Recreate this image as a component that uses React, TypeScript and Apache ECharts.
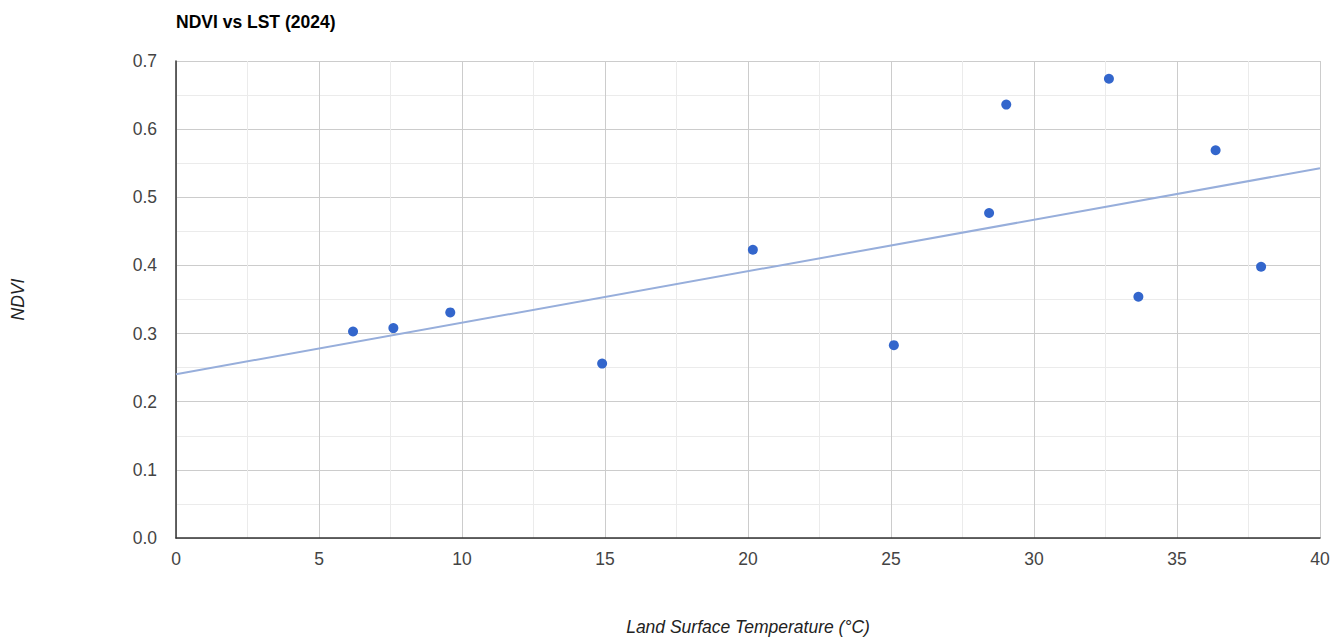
import React, { useEffect, useRef } from "react";
import * as echarts from "echarts";

const lstValues = [6.19, 7.6, 9.59, 14.9, 20.17, 25.1, 28.43, 29.03, 32.62, 33.65, 36.35, 37.94];
const ndviValues = [0.303, 0.308, 0.331, 0.256, 0.423, 0.283, 0.477, 0.636, 0.674, 0.354, 0.569, 0.398];
const xTicks = [0, 5, 10, 15, 20, 25, 30, 35, 40];
const yTicks = [0, 0.1, 0.2, 0.3, 0.4, 0.5, 0.6, 0.7];

function regression(xs: number[], ys: number[]) {
  const n = xs.length;
  const mx = xs.reduce((a, b) => a + b, 0) / n;
  const my = ys.reduce((a, b) => a + b, 0) / n;
  let sxy = 0;
  let sxx = 0;
  for (let i = 0; i < n; i++) {
    sxy += (xs[i] - mx) * (ys[i] - my);
    sxx += (xs[i] - mx) * (xs[i] - mx);
  }
  const slope = sxy / sxx;
  return { slope, intercept: my - slope * mx };
}

const FONT = "Liberation Sans, Arial, sans-serif";

export default function App() {
  const ref = useRef<HTMLDivElement>(null);
  useEffect(() => {
    if (!ref.current) return;
    const chart = echarts.init(ref.current, null, { renderer: "svg" });
    const { slope, intercept } = regression(lstValues, ndviValues);
    const xMin = xTicks[0];
    const xMax = xTicks[xTicks.length - 1];
    const trend = [
      [xMin, intercept + slope * xMin],
      [xMax, intercept + slope * xMax],
    ];
    chart.setOption({
      animation: false,
      backgroundColor: "#ffffff",
      textStyle: { fontFamily: FONT },
      title: {
        text: "NDVI vs LST (2024)",
        left: 171,
        top: 8,
        textStyle: { fontFamily: FONT, fontSize: 17.5, fontWeight: "bold", color: "#000000" },
      },
      grid: {
        left: 176,
        right: 11,
        top: 61,
        bottom: 99,
        containLabel: false,
        outerBoundsMode: "none",
      },
      xAxis: {
        type: "value",
        min: xMin,
        max: xMax,
        interval: 5,
        name: "Land Surface Temperature (°C)",
        nameLocation: "middle",
        nameGap: 80,
        nameTextStyle: { fontFamily: FONT, fontSize: 17.5, fontStyle: "italic", color: "#222222" },
        axisLine: { show: true, onZero: false, lineStyle: { color: "#333333", width: 1.5 } },
        axisTick: { show: false },
        axisLabel: { fontFamily: FONT, fontSize: 17.5, color: "#444444", margin: 12 },
        splitLine: { show: true, lineStyle: { color: "#cccccc", width: 1 } },
        minorTick: { show: false, splitNumber: 2 },
        minorSplitLine: { show: true, lineStyle: { color: "#ebebeb", width: 1 } },
      },
      yAxis: {
        type: "value",
        min: yTicks[0],
        max: yTicks[yTicks.length - 1],
        interval: 0.1,
        name: "NDVI",
        nameLocation: "middle",
        nameRotate: 90,
        nameGap: 149,
        nameTextStyle: { fontFamily: FONT, fontSize: 17.5, fontStyle: "italic", color: "#222222" },
        axisLine: { show: true, onZero: false, lineStyle: { color: "#333333", width: 1.5 } },
        axisTick: { show: false },
        axisLabel: {
          fontFamily: FONT,
          fontSize: 17.5,
          color: "#444444",
          margin: 19,
          formatter: (v: number) => v.toFixed(1),
        },
        splitLine: { show: true, lineStyle: { color: "#cccccc", width: 1 } },
        minorTick: { show: false, splitNumber: 2 },
        minorSplitLine: { show: true, lineStyle: { color: "#ebebeb", width: 1 } },
      },
      series: [
        {
          type: "line",
          data: trend,
          showSymbol: false,
          symbol: "none",
          lineStyle: { color: "#97aedb", width: 2 },
          silent: true,
          z: 2,
        },
        {
          type: "scatter",
          data: lstValues.map((x, i) => [x, ndviValues[i]]),
          symbolSize: 10,
          itemStyle: { color: "#3366cc", opacity: 1 },
          z: 3,
        },
      ],
    });
    return () => chart.dispose();
  }, []);
  return (
    <div
      ref={ref}
      style={{ position: "absolute", left: 0, top: 0, width: 1331, height: 637 }}
    />
  );
}
